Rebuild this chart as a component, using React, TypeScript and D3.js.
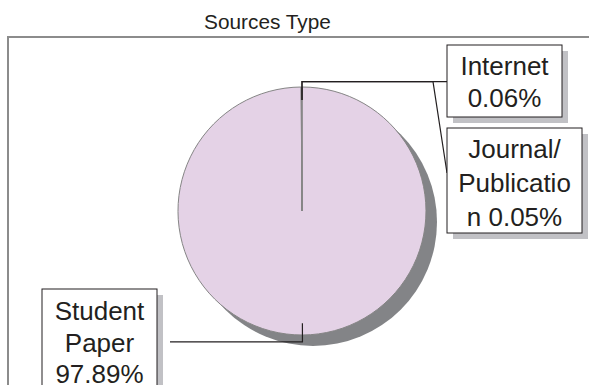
import React from "react";
import * as d3 from "d3";

const categories = ["Student Paper", "Internet", "Journal/Publication"];
const values = [97.89, 0.06, 0.05];
const labelLines = [
  ["Student", "Paper", "97.89%"],
  ["Internet", "0.06%"],
  ["Journal/", "Publicatio", "n 0.05%"],
];
const title = "Sources Type";

const W = 589;
const H = 385;
const cx = 302;
const cy = 211;
const R = 124;
const FONT = "'Liberation Sans', Arial, sans-serif";
const INK = "#231f20";

// label boxes (layout)
const boxes = [
  { x: 42, y: 289, w: 115, h: 120, lineH: 31.7, first: 31 },
  { x: 447, y: 45, w: 115, h: 72, lineH: 32, first: 30 },
  { x: 447, y: 128, w: 135, h: 105, lineH: 34, first: 30 },
];

export default function App() {
  const data = categories.map((c, i) => ({ c, v: values[i] }));
  const pie = d3
    .pie<{ c: string; v: number }>()
    .sort(null)
    .value((d) => d.v)
    .startAngle(0)
    .endAngle(2 * Math.PI);
  const arcs = pie(data);
  const arc = d3.arc<d3.PieArcDatum<{ c: string; v: number }>>().innerRadius(0).outerRadius(R);

  const pt = (a: number, r: number): [number, number] => [
    cx + r * Math.sin(a),
    cy - r * Math.cos(a),
  ];
  const mid = (d: d3.PieArcDatum<any>) => (d.startAngle + d.endAngle) / 2;

  // leader lines
  const sp = arcs[0];
  const spIn = pt(mid(sp), R * 0.905);
  const spOut = pt(mid(sp), R * 1.056);
  const studentLeader: [number, number][] = [spIn, spOut, [boxes[0].x + boxes[0].w + 13, spOut[1]]];

  const inA = arcs[1];
  const inIn = pt(mid(inA), R * 0.895);
  const inOut = pt(mid(inA), R * 1.043);
  const internetLeader: [number, number][] = [[cx, inIn[1]], [cx, inOut[1]], [boxes[1].x, inOut[1]]];

  const jA = arcs[2];
  const jIn = pt(mid(jA), R * 0.895);
  const jOut = pt(mid(jA), R * 1.043);
  const journalLeader: [number, number][] = [
    [cx, jIn[1]],
    [cx, jOut[1]],
    [433, jOut[1]],
    [boxes[2].x, 173],
  ];

  const line = d3.line();

  return (
    <svg
      width={W}
      height={H}
      style={{ position: "absolute", left: 0, top: 0, background: "#fff" }}
    >
      <rect x={0} y={0} width={W} height={H} fill="#fff" />
      <text
        x={267.5}
        y={29}
        textAnchor="middle"
        fontFamily={FONT}
        fontSize={20.8}
        fill={INK}
      >
        {title}
      </text>
      <path
        d={`M8,${H + 5} L8,37 L${W + 5},37`}
        fill="none"
        stroke="#8c8c8c"
        strokeWidth={2}
      />
      {/* pie shadow */}
      <circle cx={cx + 11} cy={cy + 11} r={R} fill="#838487" />
      <g transform={`translate(${cx},${cy})`}>
        {arcs.map((d, i) => (
          <path
            key={i}
            d={arc(d) || ""}
            fill="#e4d2e6"
            stroke="#858585"
            strokeWidth={1}
          />
        ))}
      </g>
      {/* leaders */}
      {[studentLeader, internetLeader, journalLeader].map((p, i) => (
        <path key={i} d={line(p) || ""} fill="none" stroke={INK} strokeWidth={1.2} />
      ))}
      {/* label boxes */}
      {boxes.map((b, i) => (
        <g key={i}>
          <rect x={b.x + 6} y={b.y + 6} width={b.w} height={b.h} fill="#c1c1c5" />
          <rect x={b.x} y={b.y} width={b.w} height={b.h} fill="#fff" stroke={INK} strokeWidth={1} />
          {labelLines[i].map((t, j) => (
            <text
              key={j}
              x={b.x + b.w / 2}
              y={b.y + b.first + j * b.lineH}
              textAnchor="middle"
              fontFamily={FONT}
              fontSize={26}
              fill={INK}
            >
              {t}
            </text>
          ))}
        </g>
      ))}
    </svg>
  );
}
